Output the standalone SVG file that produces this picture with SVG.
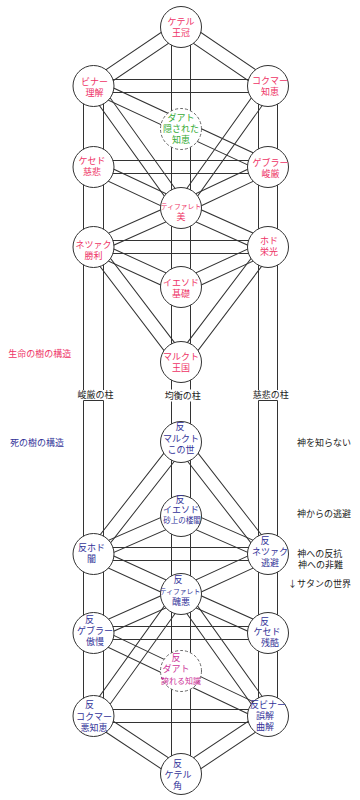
<svg xmlns="http://www.w3.org/2000/svg" width="360" height="800" viewBox="0 0 360 800">
<style>
.rb{fill:none;stroke:#333;stroke-width:1}
.pl{fill:none;stroke:#333;stroke-width:1}
.nd{fill:#fff;stroke:#333;stroke-width:1}
.dn{fill:#fff;stroke:#666;stroke-width:1;stroke-dasharray:3 2}
text{font-family:"Noto Sans CJK JP","Noto Sans CJK SC",sans-serif;font-size:9px;text-anchor:middle}
.u{fill:#ee3366}
.g{fill:#33aa33}
.l{fill:#333399}
.m{fill:#cc3399}
.k{fill:#222}
.s{font-size:6.8px}
.st{text-anchor:start}
</style>
<rect width="360" height="800" fill="#fff"/>
<g id="connectors">
  <!-- pillars -->
  <line class="pl" x1="83.5" y1="86" x2="83.5" y2="390"/>
  <line class="pl" x1="103.5" y1="86" x2="103.5" y2="390"/>
  <polyline class="pl" points="83.5,716 83.5,400.5 103.5,400.5 103.5,716"/>
  <line class="pl" x1="258.5" y1="86" x2="258.5" y2="390"/>
  <line class="pl" x1="277.5" y1="86" x2="277.5" y2="390"/>
  <polyline class="pl" points="258.5,716 258.5,400.5 277.5,400.5 277.5,716"/>
  <line class="pl" x1="171.5" y1="27" x2="171.5" y2="389.5"/>
  <line class="pl" x1="190.5" y1="27" x2="190.5" y2="389.5"/>
  <line class="pl" x1="171.5" y1="401.5" x2="171.5" y2="774"/>
  <line class="pl" x1="190.5" y1="401.5" x2="190.5" y2="774"/>
  <!-- upper tree paths -->
  <rect class="rb" x="0" y="-6.6" width="105.5" height="13.2" transform="translate(181 27) rotate(146)"/>
  <rect class="rb" x="0" y="-6.6" width="105.1" height="13.2" transform="translate(181 27) rotate(34.15)"/>
  <rect class="rb" x="0" y="-6.5" width="174.5" height="13" transform="translate(93.5 86)"/>
  <rect class="rb" x="0" y="-6.6" width="150.1" height="13.2" transform="translate(93.5 86) rotate(54.35)"/>
  <rect class="rb" x="0" y="-6.6" width="149.8" height="13.2" transform="translate(268 86) rotate(125.5)"/>
  <rect class="rb" x="0" y="-6.6" width="192.4" height="13.2" transform="translate(93.5 86) rotate(24.9)"/>
  <rect class="rb" x="0" y="-6.5" width="174.5" height="13" transform="translate(93.5 167)"/>
  <rect class="rb" x="0" y="-6.6" width="96.6" height="13.2" transform="translate(93.5 167) rotate(25.1)"/>
  <rect class="rb" x="0" y="-6.6" width="96.2" height="13.2" transform="translate(268 167) rotate(154.75)"/>
  <rect class="rb" x="0" y="-6.6" width="95.8" height="13.2" transform="translate(181 208) rotate(155.98)"/>
  <rect class="rb" x="0" y="-6.6" width="95.3" height="13.2" transform="translate(181 208) rotate(24.15)"/>
  <rect class="rb" x="0" y="-6.5" width="174.5" height="13" transform="translate(93.5 247)"/>
  <rect class="rb" x="0" y="-6.6" width="96.2" height="13.2" transform="translate(93.5 247) rotate(24.56)"/>
  <rect class="rb" x="0" y="-6.6" width="95.8" height="13.2" transform="translate(268 247) rotate(155.31)"/>
  <rect class="rb" x="0" y="-6.6" width="144.5" height="13.2" transform="translate(93.5 247) rotate(52.73)"/>
  <rect class="rb" x="0" y="-6.6" width="144.2" height="13.2" transform="translate(268 247) rotate(127.11)"/>
  <!-- lower tree paths -->
  <rect class="rb" x="0" y="-6.6" width="104.6" height="13.2" transform="translate(181 774) rotate(-33.69)"/>
  <rect class="rb" x="0" y="-6.6" width="105" height="13.2" transform="translate(181 774) rotate(-146.46)"/>
  <rect class="rb" x="0" y="-6.5" width="174.5" height="13" transform="translate(93.5 716)"/>
  <rect class="rb" x="0" y="-6.6" width="149.8" height="13.2" transform="translate(268 716) rotate(-125.5)"/>
  <rect class="rb" x="0" y="-6.6" width="150.1" height="13.2" transform="translate(93.5 716) rotate(-54.35)"/>
  <rect class="rb" x="0" y="-6.6" width="193.2" height="13.2" transform="translate(268 716) rotate(-154.57)"/>
  <rect class="rb" x="0" y="-6.5" width="174.5" height="13" transform="translate(93.5 633)"/>
  <rect class="rb" x="0" y="-6.6" width="95.3" height="13.2" transform="translate(268 633) rotate(-155.85)"/>
  <rect class="rb" x="0" y="-6.6" width="95.8" height="13.2" transform="translate(93.5 633) rotate(-24.02)"/>
  <rect class="rb" x="0" y="-6.6" width="95.8" height="13.2" transform="translate(181 594) rotate(-24.69)"/>
  <rect class="rb" x="0" y="-6.6" width="96.2" height="13.2" transform="translate(181 594) rotate(-155.44)"/>
  <rect class="rb" x="0" y="-6.5" width="174.5" height="13" transform="translate(93.5 554)"/>
  <rect class="rb" x="0" y="-6.6" width="94.9" height="13.2" transform="translate(268 554) rotate(-156.4)"/>
  <rect class="rb" x="0" y="-6.6" width="95.4" height="13.2" transform="translate(93.5 554) rotate(-23.48)"/>
  <rect class="rb" x="0" y="-6.6" width="141.8" height="13.2" transform="translate(268 554) rotate(-127.84)"/>
  <rect class="rb" x="0" y="-6.6" width="142.1" height="13.2" transform="translate(93.5 554) rotate(-52)"/>
</g>
<!-- upper tree nodes -->
<g id="keter"><circle class="nd" cx="181" cy="27" r="20.5"/><text class="u" x="181" y="25">ケテル</text><text class="u" x="181" y="36">王冠</text></g>
<g id="binah"><circle class="nd" cx="93.5" cy="86" r="20.5"/><text class="u" x="94.5" y="85">ビナー</text><text class="u" x="94.5" y="96">理解</text></g>
<g id="chokmah"><circle class="nd" cx="268" cy="86" r="20.5"/><text class="u" x="270" y="84">コクマー</text><text class="u" x="270" y="95">知恵</text></g>
<g id="daat"><circle class="dn" cx="181" cy="129" r="20.5"/><text class="g" x="181" y="120.5">ダアト</text><text class="g" x="181" y="131.5">隠された</text><text class="g" x="181" y="142.5">知恵</text></g>
<g id="chesed"><circle class="nd" cx="93.5" cy="167" r="20.5"/><text class="u" x="92" y="163.5">ケセド</text><text class="u" x="92" y="175">慈悲</text></g>
<g id="geburah"><circle class="nd" cx="268" cy="167" r="20.5"/><text class="u" x="270.5" y="165.5">ゲブラー</text><text class="u" x="270.5" y="176.5">峻厳</text></g>
<g id="tiphareth"><circle class="nd" cx="181" cy="208" r="20.5"/><text class="u s" x="181" y="208.6">ティファレト</text><text class="u" x="181" y="220">美</text></g>
<g id="netzach"><circle class="nd" cx="93.5" cy="247" r="20.5"/><text class="u" x="93.5" y="247.8">ネツァク</text><text class="u" x="93.5" y="258.7">勝利</text></g>
<g id="hod"><circle class="nd" cx="268" cy="247" r="20.5"/><text class="u" x="269" y="243.5">ホド</text><text class="u" x="269" y="254.5">栄光</text></g>
<g id="yesod"><circle class="nd" cx="181" cy="287" r="20.5"/><text class="u" x="181" y="286">イエソド</text><text class="u" x="181" y="296.6">基礎</text></g>
<g id="malkuth"><circle class="nd" cx="181" cy="362" r="20.5"/><text class="u" x="181" y="360">マルクト</text><text class="u" x="181" y="370.6">王国</text></g>
<!-- lower tree nodes -->
<g id="anti-malkuth"><circle class="nd" cx="181" cy="442" r="20.5"/><text class="l" x="180" y="430">反</text><text class="l" x="181" y="441.6">マルクト</text><text class="l" x="181" y="452.6">この世</text></g>
<g id="anti-yesod"><circle class="nd" cx="181" cy="516" r="20.5"/><text class="l" x="180" y="502.5">反</text><text class="l" x="181" y="513.3">イエソド</text><text class="l" x="182" y="522.8" style="font-size:7.5px">砂上の楼閣</text></g>
<g id="anti-hod"><circle class="nd" cx="93.5" cy="554" r="20.5"/><text class="l" x="91.5" y="550.6">反ホド</text><text class="l" x="91.5" y="561.6">闇</text></g>
<g id="anti-netzach"><circle class="nd" cx="268" cy="554" r="20.5"/><text class="l" x="265" y="544">反</text><text class="l" x="270" y="555">ネツァク</text><text class="l" x="270" y="566">逃避</text></g>
<g id="anti-tiphareth"><circle class="nd" cx="181" cy="594" r="20.5"/><text class="l" x="178" y="582.6">反</text><text class="l s" x="180" y="594.3">ティファレト</text><text class="l" x="181" y="605">醜悪</text></g>
<g id="anti-geburah"><circle class="nd" cx="93.5" cy="633" r="20.5"/><text class="l" x="89.5" y="623.3">反</text><text class="l" x="95" y="634.3">ゲブラー</text><text class="l" x="95" y="645">傲慢</text></g>
<g id="anti-chesed"><circle class="nd" cx="268" cy="633" r="20.5"/><text class="l" x="264.5" y="624.6">反</text><text class="l" x="267" y="635">ケセド</text><text class="l" x="270" y="645.6">残酷</text></g>
<g id="anti-daat"><circle class="dn" cx="181" cy="671" r="20.5"/><text class="m" x="176" y="661.3">反</text><text class="m" x="176" y="672.3">ダアト</text><text class="m" x="181" y="683.6" style="font-size:8px">誇れる知識</text></g>
<g id="anti-chokmah"><circle class="nd" cx="93.5" cy="716" r="20.5"/><text class="l" x="89.5" y="708.3">反</text><text class="l" x="94" y="720">コクマー</text><text class="l" x="94" y="730.6">悪知恵</text></g>
<g id="anti-binah"><circle class="nd" cx="268" cy="716" r="20.5"/><text class="l" x="268" y="708.3">反ビナー</text><text class="l" x="265" y="719.3">誤解</text><text class="l" x="265" y="730">曲解</text></g>
<g id="anti-keter"><circle class="nd" cx="181" cy="774" r="20.5"/><text class="l" x="177.5" y="766.6">反</text><text class="l" x="178" y="778.3">ケテル</text><text class="l" x="177.5" y="789">角</text></g>
<!-- labels -->
<g id="labels">
  <text class="u st" x="8.3" y="356.6">生命の樹の構造</text>
  <text class="l st" x="10" y="446">死の樹の構造</text>
  <text class="k" x="95.5" y="398.3">峻厳の柱</text>
  <text class="k" x="182.7" y="399.3">均衡の柱</text>
  <text class="k" x="270.7" y="397.6">慈悲の柱</text>
  <text class="k st" x="297" y="446">神を知らない</text>
  <text class="k st" x="297" y="516.6">神からの逃避</text>
  <text class="k st" x="297.3" y="556.6">神への反抗</text>
  <text class="k st" x="298" y="567.6">神への非難</text>
  <text class="k st" x="288" y="587.3">↓サタンの世界</text>
</g>
</svg>
